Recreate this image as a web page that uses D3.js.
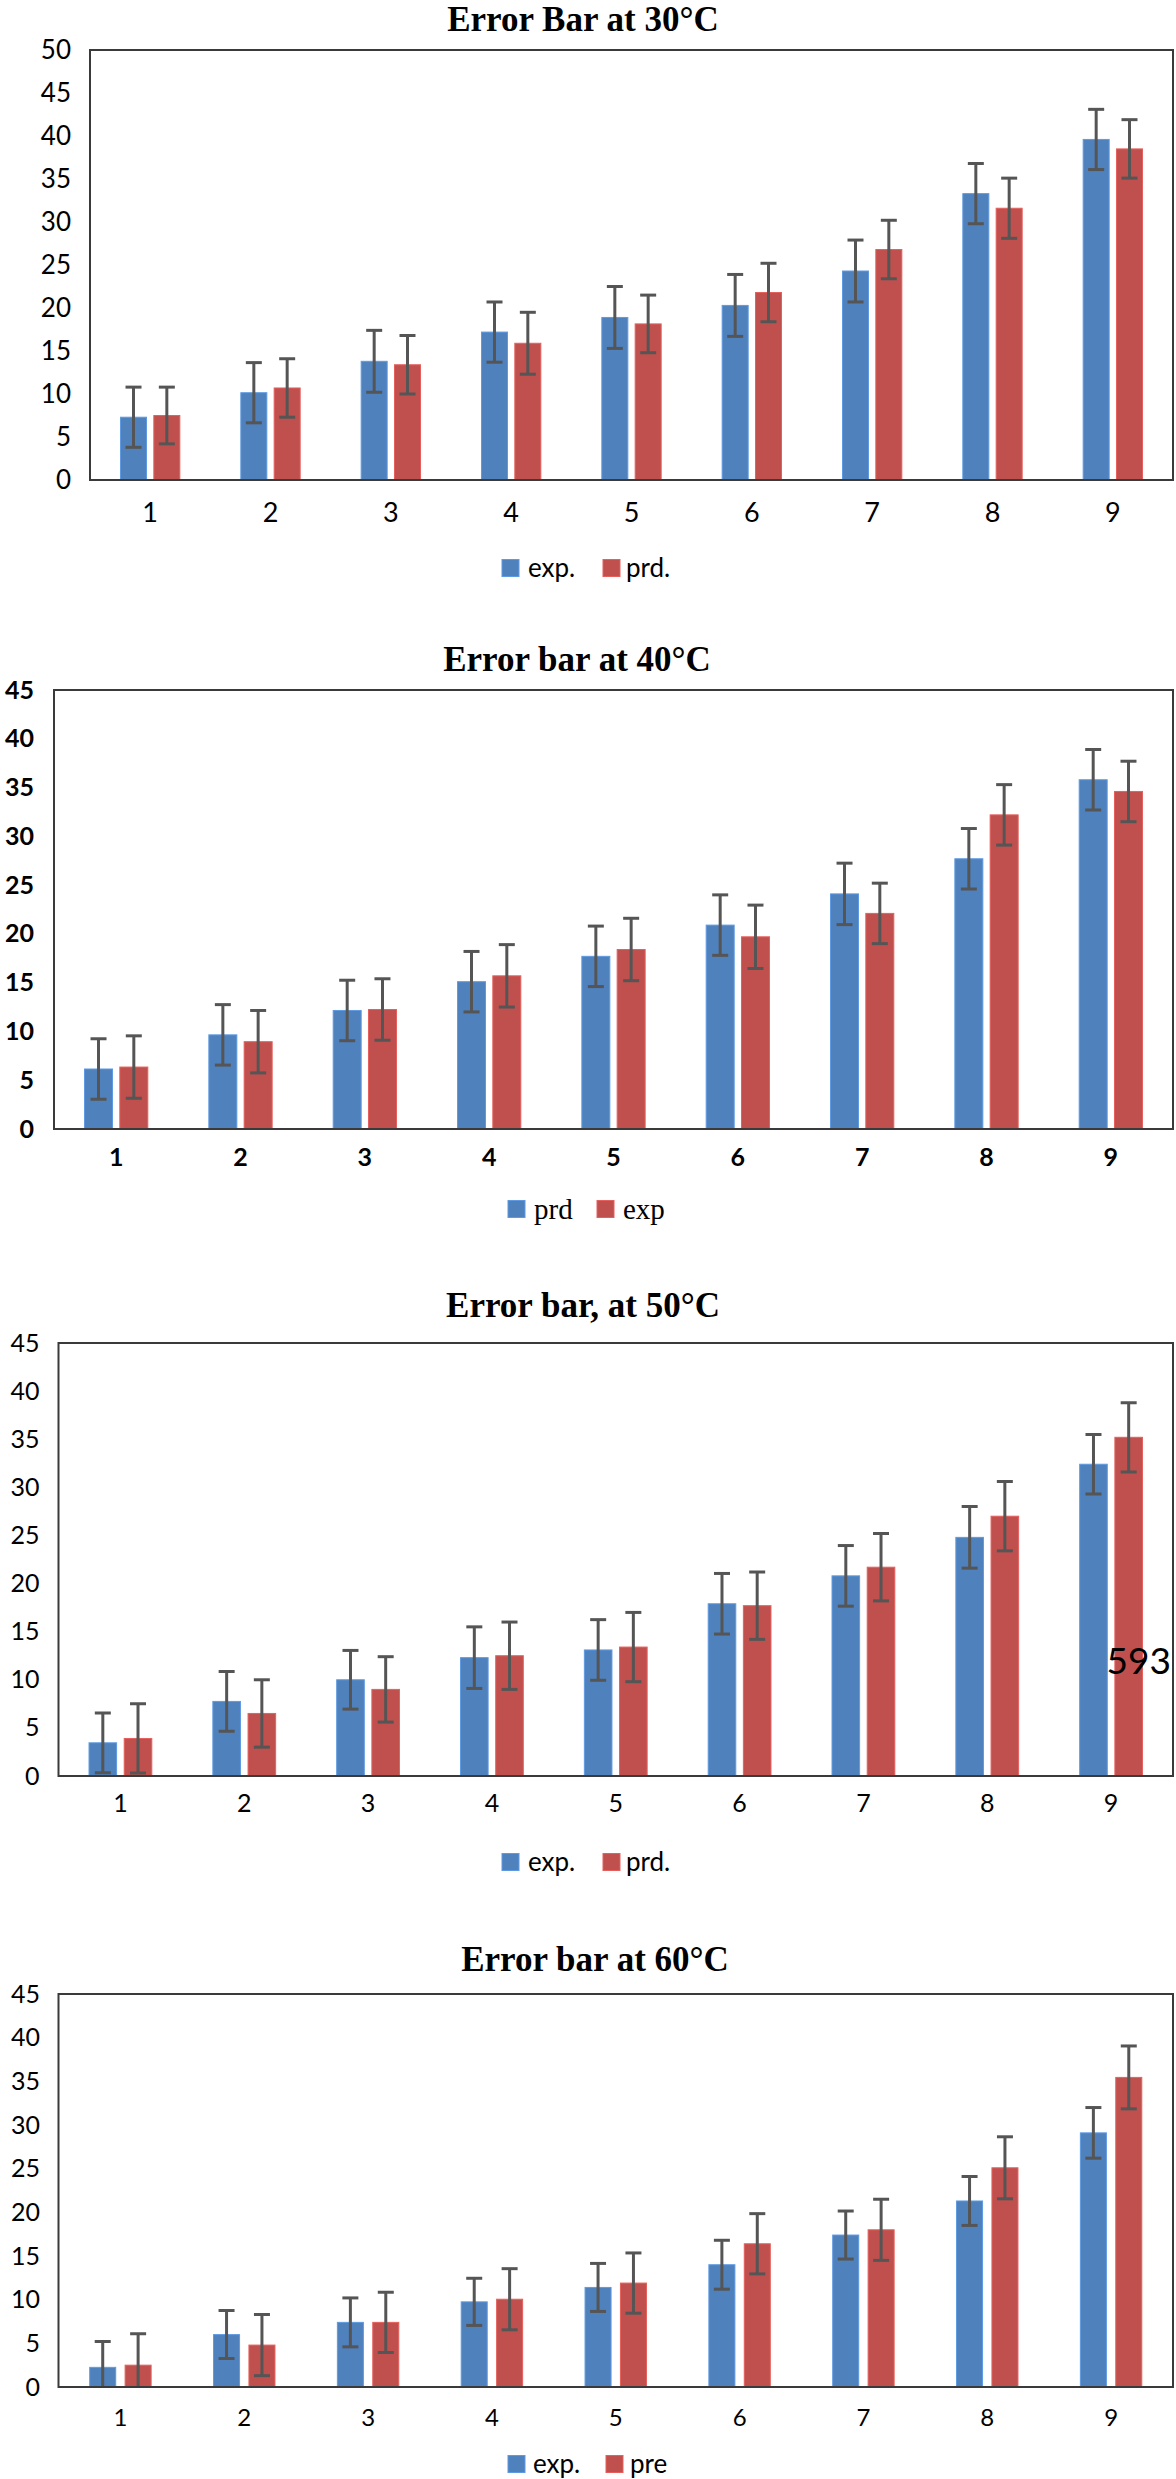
<!DOCTYPE html>
<meta charset="utf-8">
<body style="margin:0;background:#fff">
<style>
text { fill: #000; }
.frame { fill: none; stroke: #3a3a3a; stroke-width: 2px; }
.err { stroke: #555; stroke-width: 3px; fill: none; }
.title { font-family: "Liberation Serif", serif; font-weight: bold; font-size: 35px; }
</style>
<script src="https://cdn.jsdelivr.net/npm/d3@7"></script>
<script>

var categories = ["1", "2", "3", "4", "5", "6", "7", "8", "9"];

// 30 C
var exp30 = [7.3, 10.15, 13.8, 17.2, 18.9, 20.3, 24.3, 33.3, 39.6];
var prd30 = [7.5, 10.7, 13.4, 15.9, 18.15, 21.8, 26.8, 31.6, 38.5];
var errExp30 = [3.5, 3.5, 3.6, 3.5, 3.6, 3.6, 3.6, 3.5, 3.5];
var errPrd30 = [3.3, 3.4, 3.4, 3.6, 3.35, 3.4, 3.4, 3.5, 3.4];
var ticks30 = [0, 5, 10, 15, 20, 25, 30, 35, 40, 45, 50];

// 40 C
var prd40 = [6.15, 9.65, 12.15, 15.1, 17.7, 20.9, 24.1, 27.7, 35.8];
var exp40 = [6.35, 8.95, 12.25, 15.7, 18.4, 19.7, 22.1, 32.2, 34.6];
var errPrd40 = [3.1, 3.1, 3.1, 3.1, 3.1, 3.1, 3.15, 3.1, 3.1];
var errExp40 = [3.2, 3.2, 3.15, 3.2, 3.2, 3.25, 3.1, 3.1, 3.1];
var ticks40 = [0, 5, 10, 15, 20, 25, 30, 35, 40, 45];

// 50 C
var exp50 = [3.45, 7.75, 10.0, 12.3, 13.1, 17.9, 20.8, 24.8, 32.4];
var prd50 = [3.9, 6.5, 9.0, 12.5, 13.4, 17.7, 21.7, 27.0, 35.2];
var errExp50 = [3.1, 3.1, 3.05, 3.2, 3.15, 3.15, 3.15, 3.2, 3.1];
var errPrd50 = [3.6, 3.5, 3.4, 3.5, 3.6, 3.5, 3.5, 3.6, 3.6];
var ticks50 = [0, 5, 10, 15, 20, 25, 30, 35, 40, 45];

// 60 C
var exp60 = [2.25, 6.0, 7.4, 9.75, 11.4, 14.0, 17.4, 21.3, 29.1];
var pre60 = [2.5, 4.8, 7.4, 10.05, 11.9, 16.4, 18.0, 25.1, 35.45];
var errExp60 = [2.95, 2.75, 2.8, 2.7, 2.75, 2.8, 2.75, 2.8, 2.9];
var errPre60 = [3.6, 3.5, 3.45, 3.5, 3.45, 3.45, 3.5, 3.55, 3.6];
var ticks60 = [0, 5, 10, 15, 20, 25, 30, 35, 40, 45];

var blue = "#4F81BD", red = "#C0504D";
var sans = "Lato, sans-serif", serif = "'Liberation Serif', serif";

var svg = d3.select("body").append("svg")
    .attr("width", 1176)
    .attr("height", 2479);

var charts = [
  { title: "Error Bar at 30°C", tx: 583, ty: 31,
    left: 90, right: 1173, top: 50, bottom: 480, ymax: 50, ticks: ticks30,
    series: [{name: "exp.", values: exp30, err: errExp30, color: blue},
             {name: "prd.", values: prd30, err: errPrd30, color: red}],
    pair: 0.493, gap: 0.22,
    tickFont: sans, tickSize: 26, tickWeight: "normal", yPad: 19,
    xFont: sans, xSize: 27, xWeight: "normal", xPad: 23,
    legY: 568, legFont: sans, legSize: 26, leg: [[502, 528], [603, 626]] },
  { title: "Error bar at 40°C", tx: 577, ty: 671,
    left: 54, right: 1173, top: 690, bottom: 1129, ymax: 45, ticks: ticks40,
    series: [{name: "prd", values: prd40, err: errPrd40, color: blue},
             {name: "exp", values: exp40, err: errExp40, color: red}],
    pair: 0.509, gap: 0.207,
    tickFont: sans, tickSize: 25, tickWeight: "bold", yPad: 20,
    xFont: sans, xSize: 25, xWeight: "bold", xPad: 19,
    legY: 1209, legFont: serif, legSize: 29, leg: [[508, 534], [597, 623]] },
  { title: "Error bar, at 50°C", tx: 583, ty: 1317,
    left: 58.5, right: 1173, top: 1343, bottom: 1776, ymax: 45, ticks: ticks50,
    series: [{name: "exp.", values: exp50, err: errExp50, color: blue},
             {name: "prd.", values: prd50, err: errPrd50, color: red}],
    pair: 0.507, gap: 0.216,
    tickFont: sans, tickSize: 25, tickWeight: "normal", yPad: 19,
    xFont: sans, xSize: 25, xWeight: "normal", xPad: 18,
    legY: 1862, legFont: sans, legSize: 26, leg: [[502, 528], [603, 626]] },
  { title: "Error bar at 60°C", tx: 595, ty: 1971,
    left: 58.5, right: 1173, top: 1994, bottom: 2387, ymax: 45, ticks: ticks60,
    series: [{name: "exp.", values: exp60, err: errExp60, color: blue},
             {name: "pre", values: pre60, err: errPre60, color: red}],
    pair: 0.496, gap: 0.265,
    tickFont: sans, tickSize: 25, tickWeight: "normal", yPad: 18.5,
    xFont: sans, xSize: 24, xWeight: "normal", xPad: 22,
    legY: 2464, legFont: sans, legSize: 26, leg: [[508, 533], [606, 630]] }
];

charts.forEach(drawChart);

// stray page number over the 50 C chart
svg.append("text")
    .attr("x", 1171)
    .attr("y", 1674)
    .attr("text-anchor", "end")
    .style("font-family", sans)
    .style("font-size", "37px")
    .text("593");

function drawChart(c, ci) {
  var g = svg.append("g");

  var x = d3.scaleBand()
      .domain(categories)
      .range([c.left, c.right])
      .paddingInner(1 - c.pair)
      .paddingOuter((1 - c.pair) / 2);

  var xs = d3.scaleBand()
      .domain([0, 1])
      .range([0, x.bandwidth()])
      .paddingInner(c.gap);

  var y = d3.scaleLinear()
      .domain([0, c.ymax])
      .range([c.bottom, c.top]);

  var clipId = "clip" + ci;
  g.append("clipPath").attr("id", clipId)
    .append("rect")
      .attr("x", c.left).attr("y", c.top)
      .attr("width", c.right - c.left).attr("height", c.bottom - c.top);

  var plot = g.append("g").attr("clip-path", "url(#" + clipId + ")");

  c.series.forEach(function(s, si) {
    var rows = categories.map(function(k, i) {
      return {k: k, v: s.values[i], e: s.err[i]};
    });

    plot.selectAll(".bar" + si)
      .data(rows)
      .enter().append("rect")
        .attr("x", function(d) { return x(d.k) + xs(si); })
        .attr("y", function(d) { return y(d.v); })
        .attr("width", xs.bandwidth())
        .attr("height", function(d) { return y(0) - y(d.v); })
        .style("fill", s.color)
        .style("stroke", d3.color(s.color).brighter(0.5))
        .style("stroke-width", 1);

    var eb = plot.selectAll(".eb" + si)
      .data(rows)
      .enter().append("g")
        .attr("class", "err")
        .attr("transform", function(d) { return "translate(" + (x(d.k) + xs(si) + xs.bandwidth() / 2) + ",0)"; });

    eb.append("line")
        .attr("y1", function(d) { return y(d.v - d.e); })
        .attr("y2", function(d) { return y(d.v + d.e); });
    eb.append("line")
        .attr("x1", -8).attr("x2", 8)
        .attr("y1", function(d) { return y(d.v + d.e); })
        .attr("y2", function(d) { return y(d.v + d.e); });
    eb.filter(function(d) { return d.v - d.e >= 0; })
      .append("line")
        .attr("x1", -8).attr("x2", 8)
        .attr("y1", function(d) { return y(d.v - d.e); })
        .attr("y2", function(d) { return y(d.v - d.e); });
  });

  g.append("rect")
      .attr("class", "frame")
      .attr("x", c.left).attr("y", c.top)
      .attr("width", c.right - c.left).attr("height", c.bottom - c.top);

  var ya = g.append("g")
      .attr("transform", "translate(" + c.left + ",0)")
      .call(d3.axisLeft(y).tickValues(c.ticks).tickSize(0).tickPadding(c.yPad));
  ya.select(".domain").remove();
  ya.selectAll("text")
      .style("font-family", c.tickFont)
      .style("font-size", c.tickSize + "px")
      .style("font-weight", c.tickWeight)
      .attr("fill", "#000");

  var xa = g.append("g")
      .attr("transform", "translate(0," + c.bottom + ")")
      .call(d3.axisBottom(x).tickSize(0).tickPadding(c.xPad));
  xa.select(".domain").remove();
  xa.selectAll("text")
      .style("font-family", c.xFont)
      .style("font-size", c.xSize + "px")
      .style("font-weight", c.xWeight)
      .attr("fill", "#000");

  g.append("text")
      .attr("class", "title")
      .attr("x", c.tx)
      .attr("y", c.ty)
      .attr("text-anchor", "middle")
      .text(c.title);

  c.series.forEach(function(s, si) {
    var p = c.leg[si];
    g.append("rect")
        .attr("x", p[0]).attr("y", c.legY - 8.5)
        .attr("width", 17).attr("height", 17)
        .style("fill", s.color)
        .style("stroke", d3.color(s.color).brighter(0.5));
    g.append("text")
        .attr("x", p[1]).attr("y", c.legY)
        .attr("dy", "0.35em")
        .style("font-family", c.legFont)
        .style("font-size", c.legSize + "px")
        .text(s.name);
  });
}

</script>
